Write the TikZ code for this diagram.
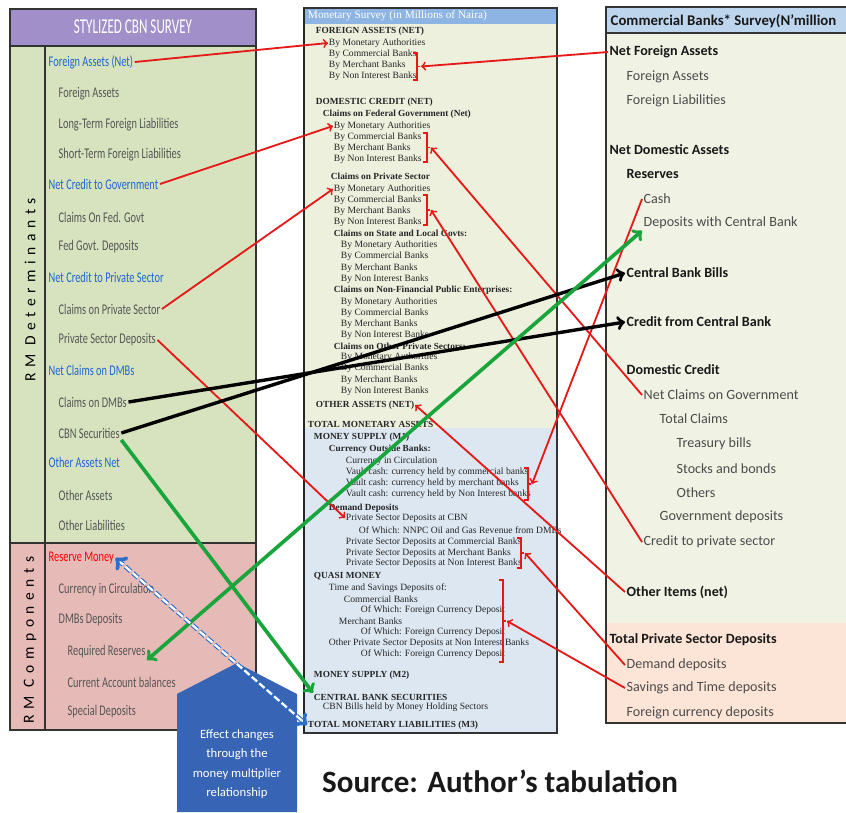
\documentclass[tikz,border=0pt]{standalone}
\usepackage{fontspec}
\setmainfont{Carlito}
\newfontfamily\narrowfont[FakeStretch=0.70]{Carlito}
\newfontfamily\headfont[FakeStretch=0.62]{Carlito}
\newfontfamily\spacedfont[LetterSpace=36]{Carlito}
\newfontfamily\timesfont{Liberation Serif}
\usepackage{tikz}

\definecolor{cbnpurple}{RGB}{160,143,201}
\definecolor{cbngreen}{RGB}{215,227,190}
\definecolor{cbnpink}{RGB}{230,186,183}
\definecolor{mscream}{RGB}{238,240,222}
\definecolor{msblue}{RGB}{220,231,242}
\definecolor{mshead}{RGB}{141,180,226}
\definecolor{cbhead}{RGB}{190,213,238}
\definecolor{cbcream}{RGB}{240,242,228}
\definecolor{cbpink}{RGB}{252,228,214}
\definecolor{itemgray}{RGB}{85,85,85}
\definecolor{headblue}{RGB}{30,100,210}
\definecolor{arrred}{RGB}{230,25,25}
\definecolor{arrgreen}{RGB}{25,165,60}
\definecolor{arrblue}{RGB}{45,110,200}
\definecolor{blockblue}{RGB}{55,100,180}

\begin{document}
\begin{tikzpicture}[x=0.7092pt, y=-0.7092pt, >=to,
	lt/.style={anchor=west, inner sep=1pt, text=itemgray,
		font=\narrowfont\fontsize{10.5}{12}\selectfont},
	lh/.style={lt, text=headblue},
	mr/.style={anchor=west, inner sep=0.5pt, text=black!85,
		font=\timesfont\fontsize{6.8}{8}\selectfont},
	mb/.style={mr, font=\timesfont\bfseries\fontsize{6.6}{8}\selectfont},
	rt/.style={anchor=west, inner sep=1pt, text=black!70,
		font=\fontsize{10}{12}\selectfont},
	rh/.style={rt, text=black!90, font=\bfseries\fontsize{10}{12}\selectfont},
	redarr/.style={->, draw=arrred, line width=1.3pt},
	blkarr/.style={->, draw=black, line width=2.4pt},
	grnarr/.style={->, draw=arrgreen, line width=2.6pt},
	bluearr/.style={<->, draw=arrblue, line width=0.8pt, double=white,
		double distance=1.6pt, dash pattern=on 5pt off 2pt}]
\clip (0,0) rectangle (846,812);

% stylized CBN survey
\fill[cbnpurple] (10,9) rectangle (256,46);
\fill[cbngreen] (10,46) rectangle (256,543);
\fill[cbnpink] (10,543) rectangle (256,730);
\draw[line width=1pt, black!80] (10,9) rectangle (256,730)
	(10,46) -- (256,46) (10,543) -- (256,543) (45,46) -- (45,730);
\node[font=\headfont\fontsize{15}{17}\selectfont, text=white] (cbnhead) at (133,27) {STYLIZED CBN SURVEY};
\node[font=\spacedfont\fontsize{11}{13}\selectfont, rotate=90] (rmdet) at (30,290) {RM Determinants};
\node[font=\spacedfont\fontsize{11}{13}\selectfont, rotate=90] (rmcomp) at (30,640) {RM Components};

\node[lh] (lfan) at (47,62) {Foreign Assets (Net)};
\node[lt] (lfa) at (57,94) {Foreign Assets};
\node[lt] (lltfl) at (57,125) {Long-Term Foreign Liabilities};
\node[lt] (lstfl) at (57,155) {Short-Term Foreign Liabilities};
\node[lh] (lncg) at (47,184) {Net Credit to Government};
\node[lt] (lcfg) at (57,217) {Claims On Fed. Govt};
\node[lt] (lfgd) at (57,247) {Fed Govt. Deposits};
\node[lh] (lncp) at (47,277) {Net Credit to Private Sector};
\node[lt] (lcps) at (57,309) {Claims on Private Sector};
\node[lt] (lpsd) at (57,340) {Private Sector Deposits};
\node[lh] (lncd) at (47,370) {Net Claims on DMBs};
\node[lt] (lcdmb) at (57,402) {Claims on DMBs};
\node[lt] (lcbns) at (57,433) {CBN Securities};
\node[lh] (loan) at (47,462) {Other Assets Net};
\node[lt] (loa) at (57,495) {Other Assets};
\node[lt] (lol) at (57,525) {Other Liabilities};
\node[lh, text=red] (lrm) at (47,558) {Reserve Money};
\node[lt] (lcic) at (57,590) {Currency in Circulation};
\node[lt] (ldmb) at (57,620) {DMBs Deposits};
\node[lt] (lrr) at (66,652) {Required Reserves};
\node[lt] (lcab) at (66,682) {Current Account balances};
\node[lt] (lsd) at (66,712) {Special Deposits};

% monetary survey
\fill[mscream] (304,8) rectangle (557,428);
\fill[msblue] (304,428) rectangle (557,733);
\fill[mshead] (304,8) rectangle (557,24);
\draw[line width=1.2pt, black!80] (304,8) rectangle (557,733);
\draw[line width=2pt, black!85] (304,8) -- (304,733);
\node[anchor=west, inner sep=0.5pt, text=white, font=\timesfont\fontsize{8}{9}\selectfont] (mshdr) at (307,16) {Monetary Survey (in Millions of Naira)};

\foreach \mx/\my/\ms/\mt [count=\k] in {
	315/31/mb/FOREIGN ASSETS (NET), 328/43/mr/By  Monetary  Authorities,
	328/54/mr/By Commercial Banks, 328/65/mr/By Merchant Banks,
	328/76/mr/By Non Interest Banks,
	315/102/mb/DOMESTIC CREDIT (NET), 322/114/mb/Claims on Federal Government (Net),
	333/126/mr/By  Monetary  Authorities, 333/137/mr/By Commercial Banks,
	333/148/mr/By Merchant Banks, 333/159/mr/By Non Interest Banks,
	330/176/mb/Claims on Private Sector,
	333/189/mr/By  Monetary  Authorities, 333/200/mr/By Commercial Banks,
	333/211/mr/By Merchant Banks, 333/222/mr/By Non Interest Banks,
	333/233/mb/Claims on State and Local Govts:,
	340/245/mr/By  Monetary  Authorities, 340/256/mr/By Commercial Banks,
	340/268/mr/By Merchant Banks, 340/279/mr/By Non Interest Banks,
	333/290/mb/Claims on Non-Financial Public Enterprises:,
	340/302/mr/By  Monetary  Authorities, 340/313/mr/By Commercial Banks,
	340/324/mr/By Merchant Banks, 340/335/mr/By Non Interest Banks,
	333/346/mb/Claims on Other Private Sectors:,
	340/357/mr/By  Monetary  Authorities, 340/368/mr/By Commercial Banks,
	340/380/mr/By Merchant Banks, 340/391/mr/By Non Interest Banks,
	315/405/mb/OTHER ASSETS (NET), 307/424/mb/TOTAL MONETARY ASSETS,
	313/437/mb/MONEY SUPPLY (M1), 328/449/mb/Currency Outside Banks:,
	345/461/mr/Currency in Circulation,
	345/472/mr/Vault cash: currency held by commercial banks,
	345/483/mr/Vault cash: currency held by merchant banks,
	345/494/mr/Vault cash: currency held by Non Interest banks,
	328/508/mb/Demand Deposits,
	345/518/mr/Private Sector Deposits at CBN,
	358/530/mr/Of Which: NNPC Oil and Gas Revenue from DMBs,
	345/542/mr/Private Sector Deposits at Commercial Banks,
	345/553/mr/Private Sector Deposits at Merchant Banks,
	345/563/mr/Private Sector Deposits at Non Interest Banks,
	313/576/mb/QUASI MONEY, 328/588/mr/Time and Savings Deposits of:,
	343/599/mr/Commercial Banks, 360/610/mr/Of Which: Foreign Currency Deposit,
	338/621/mr/Merchant Banks, 360/632/mr/Of Which: Foreign Currency Deposit,
	328/643/mr/Other Private Sector Deposits at Non Interest Banks,
	360/654/mr/Of Which: Foreign Currency Deposit,
	313/675/mb/MONEY SUPPLY (M2), 313/697/mb/CENTRAL BANK SECURITIES,
	322/707/mr/CBN Bills held by Money Holding Sectors,
	307/725/mb/TOTAL MONETARY LIABILITIES (M3)}
	\node[\ms] (m\k) at (\mx,\my) {\mt};

\foreach \bx/\bt/\bb [count=\k] in {417/53/80, 427/133/162, 427/195/225,
		528/468/500, 521/538/568, 503/580/662} {
	\draw[arrred, line width=1.1pt] (\bx-4,\bt) -- (\bx,\bt) -- (\bx,\bb) -- (\bx-4,\bb)
		(\bx,{(\bt+\bb)/2}) -- (\bx+3,{(\bt+\bb)/2});
	\coordinate (b\k) at (\bx+4,{(\bt+\bb)/2});
}

% commercial banks survey
\fill[cbcream] (606,7) rectangle (850,623);
\fill[cbpink] (606,623) rectangle (850,723);
\fill[cbhead] (606,7) rectangle (850,33);
\draw[line width=1.2pt, black!80] (606,7) rectangle (850,723) (606,33) -- (850,33);
\node[rh, font=\bfseries\fontsize{10.5}{12}\selectfont] (rhead) at (609,21) {Commercial Banks* Survey(N'million};

\node[rh] (rnfa) at (608,52) {Net Foreign Assets};
\node[rt] (rfa) at (625,77) {Foreign Assets};
\node[rt] (rfl) at (625,101) {Foreign Liabilities};
\node[rh] (rnda) at (608,150) {Net Domestic Assets};
\node[rh] (rres) at (625,174) {Reserves};
\node[rt] (rcash) at (642,199) {Cash};
\node[rt] (rdcb) at (642,223) {Deposits with Central Bank};
\node[rh] (rcbb) at (625,273) {Central Bank Bills};
\node[rh] (rcfcb) at (625,322) {Credit from Central Bank};
\node[rh] (rdc) at (625,370) {Domestic Credit};
\node[rt] (rncg) at (642,395) {Net Claims on Government};
\node[rt] (rtc) at (658,419) {Total Claims};
\node[rt] (rtb) at (675,444) {Treasury bills};
\node[rt] (rsb) at (675,469) {Stocks and bonds};
\node[rt] (roth) at (675,493) {Others};
\node[rt] (rgd) at (658,517) {Government deposits};
\node[rt] (rcps) at (642,542) {Credit to private sector};
\node[rh] (roin) at (625,592) {Other Items (net)};
\node[rh] (rtpsd) at (608,640) {Total Private Sector Deposits};
\node[rt] (rdd) at (625,665) {Demand deposits};
\node[rt] (rstd) at (625,688) {Savings and Time deposits};
\node[rt] (rfcd) at (625,713) {Foreign currency deposits};

% multiplier arrow and source
\fill[blockblue] (177,812) -- (177,694) -- (237,663) -- (297,694) -- (297,812) -- cycle;
\node[align=center, text=white, font=\fontsize{9}{13.8}\selectfont] (effect) at (237,764)
	{Effect changes\\through the\\money multiplier\\relationship};
\node[font=\bfseries\fontsize{22}{26}\selectfont, text=black!90] (source) at (500,781) {Source: Author's tabulation};

% links
\draw[redarr] (lfan.east) -- (m2.west);
\draw[redarr] (lncg.east) -- (m8.west);
\draw[redarr] (lcps.east) -- (m13.west);
\draw[redarr] (lpsd.east) -- (m41.west);
\draw[redarr] (rnfa.west) -- (b1);
\draw[redarr] (rncg.west) -- (b2);
\draw[redarr] (rcps.west) -- (b3);
\draw[redarr] (rcash.west) -- (b4);
\draw[redarr] (rdd.west) -- (b5);
\draw[redarr] (rstd.west) -- (b6);
\draw[redarr] (roin.west) -- (m32.east);
\draw[blkarr] (lcdmb.east) -- (rcfcb.west);
\draw[blkarr] (lcbns.east) -- (rcbb.west);
\draw[grnarr] (lcbns.south east) -- (m55.north west);
\draw[grnarr, <->] (lrr.south east) -- (rdcb.south west);
\draw[bluearr] (lrm.east) -- (m57.west);
\end{tikzpicture}
\end{document}
